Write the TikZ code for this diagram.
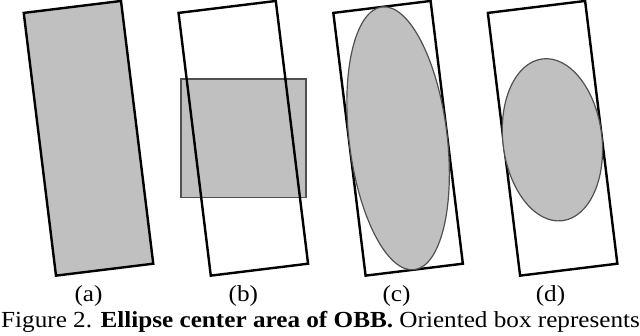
\documentclass[tikz,border=0pt]{standalone}
\usepackage{fontspec}
\setmainfont{Liberation Serif}[FakeStretch=1.095]
\usetikzlibrary{shapes.geometric}

\definecolor{areagray}{RGB}{192,192,192}
\definecolor{areaedge}{RGB}{80,80,80}

\begin{document}
\begin{tikzpicture}[
    x=1pt, y=-1pt,
    obb/.style      = {rectangle, draw=black, line width=2.4pt, inner sep=0pt, minimum width=98pt, minimum height=264.7pt, rotate=7},
    area/.style     = {fill=areagray, draw=areaedge, line width=1.2pt, inner sep=0pt},
    sublabel/.style = {font=\fontsize{23}{27}\selectfont, anchor=base, inner sep=0pt},
    caption/.style  = {font=\fontsize{23}{27}\selectfont, anchor=base west, inner sep=0pt}
]
\useasboundingbox (0,0) rectangle (640,335);

% (a) oriented box, filled
\node[obb, fill=areagray] (boxa) at (88.5,138.3) {};

% (b) axis-aligned centre area under the box
\node[area, rectangle, minimum width=125pt, minimum height=118.7pt] (rectb) at (243.4,138.4) {};
\node[obb] (boxb) at (243.3,138.3) {};

% (c) ellipse inscribed in the box
\node[obb] (boxc) at (398.1,138.3) {};
\node[area, ellipse, rotate=7, minimum width=98pt, minimum height=264.7pt] (ellc) at (398.1,138.3) {};

% (d) smaller ellipse
\node[obb] (boxd) at (552.6,138.3) {};
\node[area, ellipse, rotate=7, minimum width=99pt, minimum height=163pt] (elld) at (552.4,139.8) {};

% sub-figure labels, all at the same height
\node[sublabel] (laba) at (88.5,301)  {(a)};
\node[sublabel] (labb) at (243.3,301) {(b)};
\node[sublabel] (labc) at (396.5,301) {(c)};
\node[sublabel] (labd) at (550.5,301) {(d)};

% caption line
\node[caption] (cap) at (1,327) {Figure 2. \textbf{Ellipse center area of OBB.} Oriented box represents};

\end{tikzpicture}
\end{document}
